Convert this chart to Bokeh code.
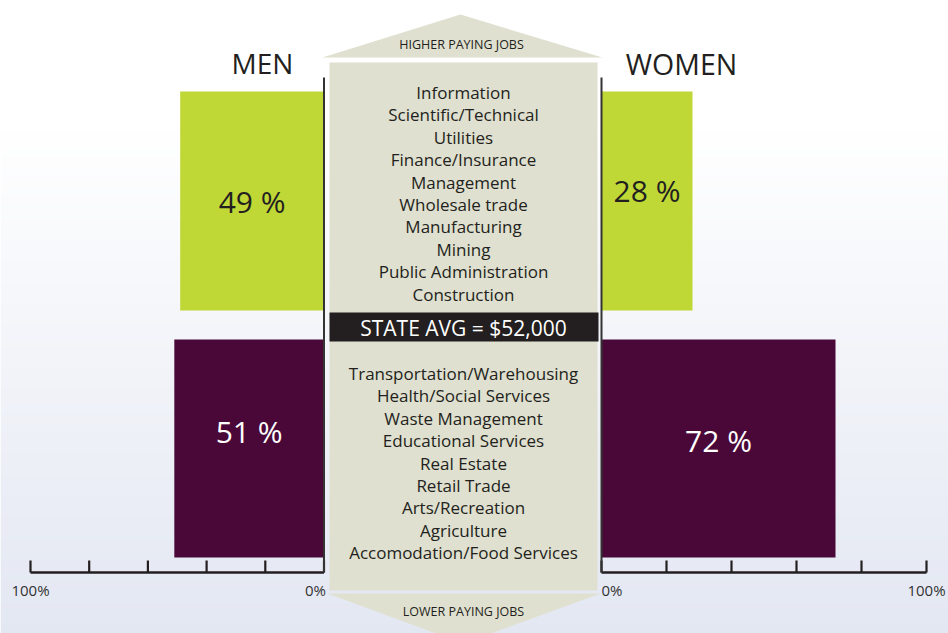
from bokeh.plotting import figure
from bokeh.models import Range1d, ColumnDataSource
from bokeh.core.properties import value
from bokeh.embed import file_html
from bokeh.resources import INLINE

# ---------------- data ----------------
pay_groups = ["Higher paying jobs", "Lower paying jobs"]
men_share = [49, 51]          # percent of men in each group
women_share = [28, 72]        # percent of women in each group
axis_ticks = [0, 20, 40, 60, 80, 100]
higher_jobs = ["Information", "Scientific/Technical", "Utilities", "Finance/Insurance",
               "Management", "Wholesale trade", "Manufacturing", "Mining",
               "Public Administration", "Construction"]
lower_jobs = ["Transportation/Warehousing", "Health/Social Services", "Waste Management",
              "Educational Services", "Real Estate", "Retail Trade", "Arts/Recreation",
              "Agriculture", "Accomodation/Food Services"]
state_avg = "STATE AVG = $52,000"

# ---------------- layout / style ----------------
FONT = value("Open Sans")
GREEN = "#c0d836"
PURPLE = "#4a0838"
BEIGE = "#dfe0cf"
INK = "#231f20"
W, H = 948, 633
X0, Y0 = 0, 0
MEN_ZERO, MEN_FULL = 323.5, 30.0   # layout px of 0% and 100% for men
WOM_ZERO, WOM_FULL = 601.0, 926.0
ppm = (MEN_ZERO - MEN_FULL) / 100.0
ppw = (WOM_FULL - WOM_ZERO) / 100.0

p = figure(width=W, height=H, x_range=Range1d(X0, X0 + W), y_range=Range1d(Y0 + H, Y0),
           output_backend="svg", toolbar_location=None, x_axis_type=None, y_axis_type=None,
           min_border=0, outline_line_color=None, background_fill_color="white",
           border_fill_color="white")
p.extra_x_ranges = {
    "men": Range1d(start=(MEN_ZERO - X0) / ppm, end=(MEN_ZERO - X0 - W) / ppm),
    "women": Range1d(start=(X0 - WOM_ZERO) / ppw, end=(X0 + W - WOM_ZERO) / ppw),
}

# background gradient (style)
def mix(c1, c2, t):
    a = [int(c1[i:i + 2], 16) for i in (1, 3, 5)]
    b = [int(c2[i:i + 2], 16) for i in (1, 3, 5)]
    return "#%02x%02x%02x" % tuple(round(a[k] + (b[k] - a[k]) * t) for k in range(3))

band_top, band_bot, cols = [], [], []
step = 4
y = Y0
while y < Y0 + H:
    t = max(0.0, (y - 120) / (633 - 120))
    band_top.append(y)
    band_bot.append(y + step + 0.5)
    cols.append(mix("#ffffff", "#e3e7f2", t))
    y += step
p.quad(left=X0, right=X0 + W, top=band_top, bottom=band_bot, fill_color=cols, line_color=None)

# central column with arrows
p.quad(left=329, right=597, top=62, bottom=590, fill_color=BEIGE, line_color=None)
p.patch(x=[322, 602, 460], y=[57, 57, 14], fill_color=BEIGE, line_color=None)
p.patch(x=[327, 600, 463], y=[593, 593, 643], fill_color=BEIGE, line_color=None)
p.text(x=[461], y=[44], text=["HIGHER PAYING JOBS"], text_font=FONT, text_font_size="12.5px",
       text_color=INK, text_align="center", text_baseline="middle")
p.text(x=[463], y=[611], text=["LOWER PAYING JOBS"], text_font=FONT, text_font_size="12.5px",
       text_color=INK, text_align="center", text_baseline="middle")

# job lists
LINE = 22.4
p.text(x=[463] * len(higher_jobs), y=[92 + i * LINE for i in range(len(higher_jobs))],
       text=higher_jobs, text_font=FONT, text_font_size="17px", text_color=INK,
       text_align="center", text_baseline="middle")
p.text(x=[463] * len(lower_jobs), y=[373 + i * LINE for i in range(len(lower_jobs))],
       text=lower_jobs, text_font=FONT, text_font_size="17px", text_color=INK,
       text_align="center", text_baseline="middle")

# state average banner
p.quad(left=329, right=598, top=312, bottom=341, fill_color=INK, line_color=None)
p.text(x=[463], y=[327], text=[state_avg], text_font=FONT, text_font_size="21px",
       text_color="white", text_align="center", text_baseline="middle")

# bars
bar_top = [91, 339]
bar_bot = [310, 557]
bar_col = [GREEN, PURPLE]
lab_col = [INK, "white"]
men_src = ColumnDataSource(dict(group=pay_groups, v=men_share, half=[v / 2 for v in men_share],
                                top=bar_top, bottom=bar_bot, color=bar_col, lc=lab_col,
                                ly=[201, 431], lab=["%d %%" % v for v in men_share]))
wom_src = ColumnDataSource(dict(group=pay_groups, v=women_share, half=[v / 2 for v in women_share],
                                top=bar_top, bottom=bar_bot, color=bar_col, lc=lab_col,
                                ly=[190, 440], lab=["%d %%" % v for v in women_share]))
for name, src in (("men", men_src), ("women", wom_src)):
    p.quad(left=0, right="v", top="top", bottom="bottom", fill_color="color", line_color=None,
           source=src, x_range_name=name)
    p.text(x="half", y="ly", text="lab", text_color="lc", source=src, x_range_name=name,
           text_font=FONT, text_font_size="30px", text_align="center", text_baseline="middle")

# axes drawn from tick data
for name in ("men", "women"):
    p.segment(x0=axis_ticks, x1=axis_ticks, y0=560, y1=572, line_color=INK, line_width=2.2,
              x_range_name=name)
    p.segment(x0=[0], x1=[100], y0=[572], y1=[572], line_color=INK, line_width=2.6,
              x_range_name=name)
    p.segment(x0=[0], x1=[0], y0=[77], y1=[572], line_color="#333333", line_width=2,
              x_range_name=name)

TS = "15px"
p.text(x=[100], y=[589], text=["100%"], x_range_name="men", text_font=FONT, text_font_size=TS,
       text_color="#333333", text_align="center", text_baseline="middle")
p.text(x=[0], y=[589], text=["0%"], x_range_name="men", x_offset=2, text_font=FONT,
       text_font_size=TS, text_color="#333333", text_align="right", text_baseline="middle")
p.text(x=[0], y=[589], text=["0%"], x_range_name="women", text_font=FONT, text_font_size=TS,
       text_color="#333333", text_align="left", text_baseline="middle")
p.text(x=[100], y=[589], text=["100%"], x_range_name="women", text_font=FONT,
       text_font_size=TS, text_color="#333333", text_align="center", text_baseline="middle")

# titles
p.text(x=[262], y=[62], text=["MEN"], text_font=FONT, text_font_size="28px", text_color=INK,
       text_align="center", text_baseline="middle")
p.text(x=[681], y=[63], text=["WOMEN"], text_font=FONT, text_font_size="28.5px", text_color=INK,
       text_align="center", text_baseline="middle")

open("out.html", "w").write(file_html(p, INLINE))
